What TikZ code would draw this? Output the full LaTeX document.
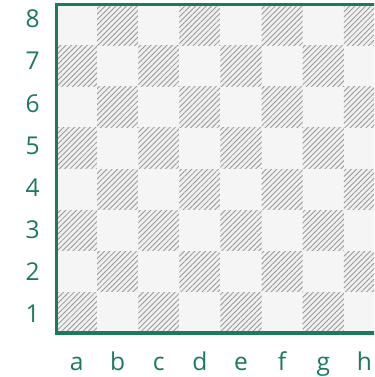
\documentclass[tikz,border=0pt]{standalone}
\usepackage{fontspec}
\setmainfont{Open Sans}
\usepackage{xcolor}
\usepackage{tikz}
\usetikzlibrary{patterns.meta}

\definecolor{boardgreen}{HTML}{1B7A5C}
\definecolor{lightsq}{HTML}{F5F5F5}
\definecolor{darksq}{HTML}{F0F0F0}
\definecolor{hatchgray}{HTML}{999999}

\begin{document}
\begin{tikzpicture}[
  light/.style={fill=lightsq},
  dark/.style={fill=darksq, postaction={pattern={Lines[angle=45, distance=2.6pt, line width=0.6pt]}, pattern color=hatchgray}},
  rank/.style={text=boardgreen, font=\fontsize{17}{20}\selectfont, inner sep=0pt},
  file/.style={text=boardgreen, font=\fontsize{17}{20}\selectfont, inner sep=0pt, anchor=base},
  frame/.style={draw=boardgreen, line width=2.1pt}
]
  \useasboundingbox (-1.363,-1.07) rectangle (7.737,8.10);
  \clip (-1.363,-1.07) rectangle (7.737,8.10);

  % squares
  \foreach \c in {1,...,8}
    \foreach \r in {1,...,8} {
      \pgfmathparse{int(mod(\c+\r,2))}
      \ifnum\pgfmathresult=0
        \path[dark] (\c-1,\r-1) rectangle (\c,\r);
      \else
        \path[light] (\c-1,\r-1) rectangle (\c,\r);
      \fi
    }

  % border
  \draw[frame] (0,0) rectangle (8,8);

  % ranks
  \foreach \r in {1,...,8}
    \node[rank] (r\r) at (-0.57,{0.462+(\r-1)*1.0254}) {\r};

  % files
  \foreach \f [count=\i] in {a,b,c,d,e,f,g,h}
    \node[file] (f\f) at (\i-0.5,-0.90) {\f};
\end{tikzpicture}
\end{document}
